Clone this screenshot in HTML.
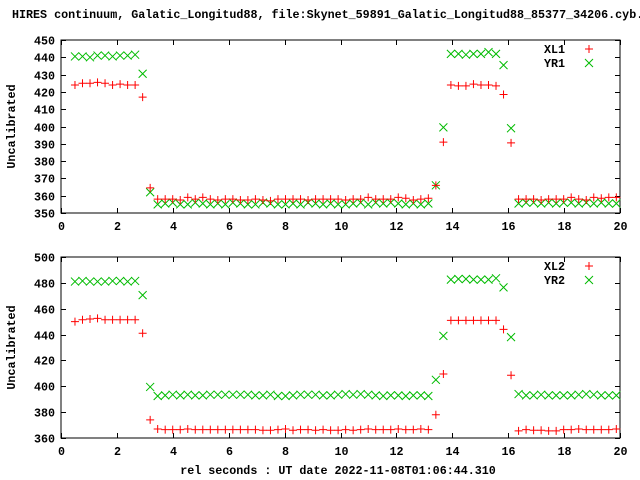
<!DOCTYPE html>
<html><head><meta charset="utf-8"><style>
body{margin:0;background:#fff;}
svg{display:block;font-family:"Liberation Mono","DejaVu Sans Mono",monospace;font-size:11.7px;font-weight:bold;}
</style></head><body>
<svg id="chart" width="640" height="480" viewBox="0 0 640 480" xmlns="http://www.w3.org/2000/svg">
<rect width="640" height="480" fill="#fff"/>
<text x="12" y="18" fill="#000">HIRES continuum, Galatic_Longitud88, file:Skynet_59891_Galatic_Longitud88_85377_34206.cyb.</text>
<text x="338" y="474" text-anchor="middle" fill="#000">rel seconds : UT date 2022-11-08T01:06:44.310</text>
</svg>
<script>
const xTicks=[0,2,4,6,8,10,12,14,16,18,20];
const yTicksTop=[350,360,370,380,390,400,410,420,430,440,450];
const yTicksBot=[360,380,400,420,440,460,480,500];
const t0=0.5, dt=0.269;
const xl1=[424,425,425,425.5,425,424,424.5,424,424,417,364.5,
358,358,358,357.5,359,358,359,358,357.5,358,358,357.5,357.5,358,357.5,357,358,358,358,358,357.5,358,358,358,358,357.5,358,358,359,358,358,358,359,358.5,357.5,358,358.5,
366,391,424,423.5,423.5,424.5,424,424,423.5,418.5,390.5,
358,358,358,357.5,358,358,358,359,358,357.5,359,358.5,359,359];
const yr1=[440.5,440.5,440,441,441,440.5,441,441,441.5,430.5,362,
355,355.5,356,355,355,356,355.5,355,355.5,355,356,355.5,355,355,356,355.5,355,355,355.5,355,356,355.5,355,355.5,355,355,355.5,356,355,356,355.5,356,355.5,355,355.5,355,355.5,
366,399.5,442,442,441.5,442,442,443,442,435.5,399,
355.5,356,356,355.5,356,355.5,356,356,355.5,356,355.5,356,355.5,355.5];
const xl2=[450,451.5,452,452.5,451.5,451.5,451.5,451.5,451.5,441,374,
367,366.5,366.5,366.5,367,366.5,366.5,366.5,366.5,366.5,366.5,366.5,366.5,366.5,366,366,366.5,367,366,366.5,366.5,366,366.5,366,366,366.5,366,366.5,367,366.5,366.5,366.5,367,366.5,366.5,367,366.5,
378,409.5,451,451,451,451,451,451,451,444,408.5,
365.5,366.5,366,366,365.5,365.5,366.5,366.5,367,366.5,366.5,366.5,366.5,367];
const yr2=[481,481.5,481,481,481,481.5,481.5,481,481.5,470.5,399.5,
392.5,393,393.5,393,393.5,393,393,393.5,393.5,393.5,393.5,393.5,393.5,393,393,393.5,392.5,392.5,393,393.5,393.5,393.5,393,393,393.5,394,393.5,394,393.5,393,392.5,393,393,392.5,393,393,392.5,
405,439,482.5,483,483,482.5,482.5,482.5,483.5,476.5,438,
394,393,393,393.5,393,393,393,393,393.5,394,393.5,393,393,393];
const NS="http://www.w3.org/2000/svg";
const svg=document.getElementById('chart');
const L=61,R=620;
const xs=v=>L+(v-0)/(20-0)*(R-L);
function mk(tag,a){const e=document.createElementNS(NS,tag);for(const k in a)e.setAttribute(k,a[k]);svg.appendChild(e);return e;}
function panel(top,bot,ymin,ymax,yt,s1,s2,n1,n2,pname){
  const ys=v=>bot-(v-ymin)/(ymax-ymin)*(bot-top);
  const fr=mk('rect',{x:L,y:top,width:R-L,height:bot-top,fill:'none',stroke:'#000','stroke-width':1});
  
  
  yt.forEach(v=>{const y=Math.round(ys(v))+0.5;
    const l=mk('path',{d:`M${L} ${y}h5M${R} ${y}h-5`,stroke:'#000'});
    
    
    const t=mk('text',{x:L-6,y:y+4,'text-anchor':'end'});t.textContent=v;
    
    });
  xTicks.forEach(v=>{const x=Math.round(xs(v))+0.5;
    const l=mk('path',{d:`M${x} ${bot}v-5M${x} ${top}v5`,stroke:'#000'});
    
    
    const t=mk('text',{x:x,y:bot+17,'text-anchor':'middle'});t.textContent=v;
    
    });
  const yl=mk('text',{x:0,y:0,transform:`translate(15,${(top+bot)/2}) rotate(-90)`,'text-anchor':'middle'});
  yl.textContent='Uncalibrated';
  
  
  const plus=(x,y,n)=>{const p=mk('path',{d:`M${x-4} ${y}h8M${x} ${y-4}v8`,stroke:'#f00','stroke-width':1});
    };
  const cross=(x,y,n)=>{const p=mk('path',{d:`M${x-4} ${y-4}l8 8M${x-4} ${y+4}l8 -8`,stroke:'#0b0','stroke-width':1});
    };
  s2.forEach((v,i)=>cross(xs(t0+i*dt),ys(v),pname+'-'+n2.toLowerCase()+'-point'));
  s1.forEach((v,i)=>plus(xs(t0+i*dt),ys(v),pname+'-'+n1.toLowerCase()+'-point'));
  const ly=top+9;
  const a=mk('text',{x:565,y:ly+4,'text-anchor':'end'});a.textContent=n1;
  
  
  plus(589,ly,pname+'-legend-'+n1.toLowerCase()+'-marker');
  const b=mk('text',{x:565,y:ly+18,'text-anchor':'end'});b.textContent=n2;
  
  
  cross(589,ly+14,pname+'-legend-'+n2.toLowerCase()+'-marker');
}
panel(40,213,350,450,yTicksTop,xl1,yr1,'XL1','YR1','top-panel');
panel(257,438,360,500,yTicksBot,xl2,yr2,'XL2','YR2','bottom-panel');
</script>
</body></html>
